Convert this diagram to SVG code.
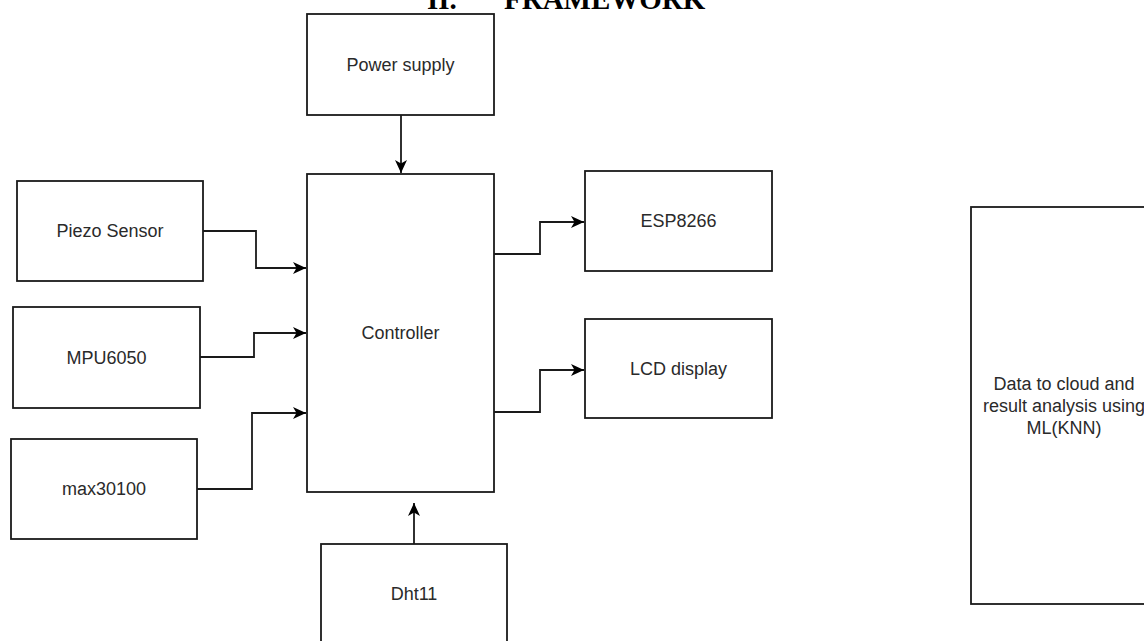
<svg xmlns="http://www.w3.org/2000/svg" width="1144" height="641" viewBox="0 0 1144 641">
<style>
.box{fill:#fff;stroke:#1a1a1a;stroke-width:1.8}
.lbl{font-family:"Liberation Sans",Arial,sans-serif;font-size:18px;fill:#2a2a2a;text-anchor:middle}
.ttl{font-family:"Liberation Serif","Times New Roman",serif;font-size:29px;font-weight:bold;fill:#000}
.edge{fill:none;stroke:#1a1a1a;stroke-width:1.8}
</style>
<defs>
<marker id="arr" markerUnits="userSpaceOnUse" markerWidth="14" markerHeight="14" refX="13" refY="7" orient="auto">
<path d="M0,1 L13,7 L0,13 L3.5,7 z" fill="#000"/>
</marker>
</defs>
<rect width="1144" height="641" fill="#fff"/>
<g id="title">
<text class="ttl" x="427" y="9">II.</text>
<text class="ttl" x="504" y="9">FRAMEWORK</text>
</g>
<g id="power"><rect class="box" x="307" y="14" width="187" height="101"/><text class="lbl" x="400.5" y="71">Power supply</text></g>
<g id="controller"><rect class="box" x="307" y="174" width="187" height="318"/><text class="lbl" x="400.5" y="339">Controller</text></g>
<g id="piezo"><rect class="box" x="17" y="181" width="186" height="100"/><text class="lbl" x="110" y="237">Piezo Sensor</text></g>
<g id="mpu"><rect class="box" x="13" y="307" width="187" height="101"/><text class="lbl" x="106.5" y="364">MPU6050</text></g>
<g id="max"><rect class="box" x="11" y="439" width="186" height="100"/><text class="lbl" x="104" y="495">max30100</text></g>
<g id="esp"><rect class="box" x="585" y="171" width="187" height="100"/><text class="lbl" x="678.5" y="227">ESP8266</text></g>
<g id="lcd"><rect class="box" x="585" y="319" width="187" height="99"/><text class="lbl" x="678.5" y="375">LCD display</text></g>
<g id="dht"><rect class="box" x="321" y="544" width="186" height="110"/><text class="lbl" x="414" y="600">Dht11</text></g>
<g id="cloud"><rect class="box" x="971" y="207" width="186" height="397"/>
<text class="lbl" x="1064" y="390">Data to cloud and</text>
<text class="lbl" x="1064" y="412">result analysis using</text>
<text class="lbl" x="1064" y="434">ML(KNN)</text></g>
<g id="connectors">
<path class="edge" d="M401,115 V173" marker-end="url(#arr)"/>
<path class="edge" d="M414,544 V503" marker-end="url(#arr)"/>
<path class="edge" d="M203,231 H256 V268 H306" marker-end="url(#arr)"/>
<path class="edge" d="M200,357 H254 V333 H306" marker-end="url(#arr)"/>
<path class="edge" d="M197,489 H252 V413 H306" marker-end="url(#arr)"/>
<path class="edge" d="M494,254 H540 V222 H584" marker-end="url(#arr)"/>
<path class="edge" d="M494,412 H540 V370 H584" marker-end="url(#arr)"/>
</g>
</svg>
